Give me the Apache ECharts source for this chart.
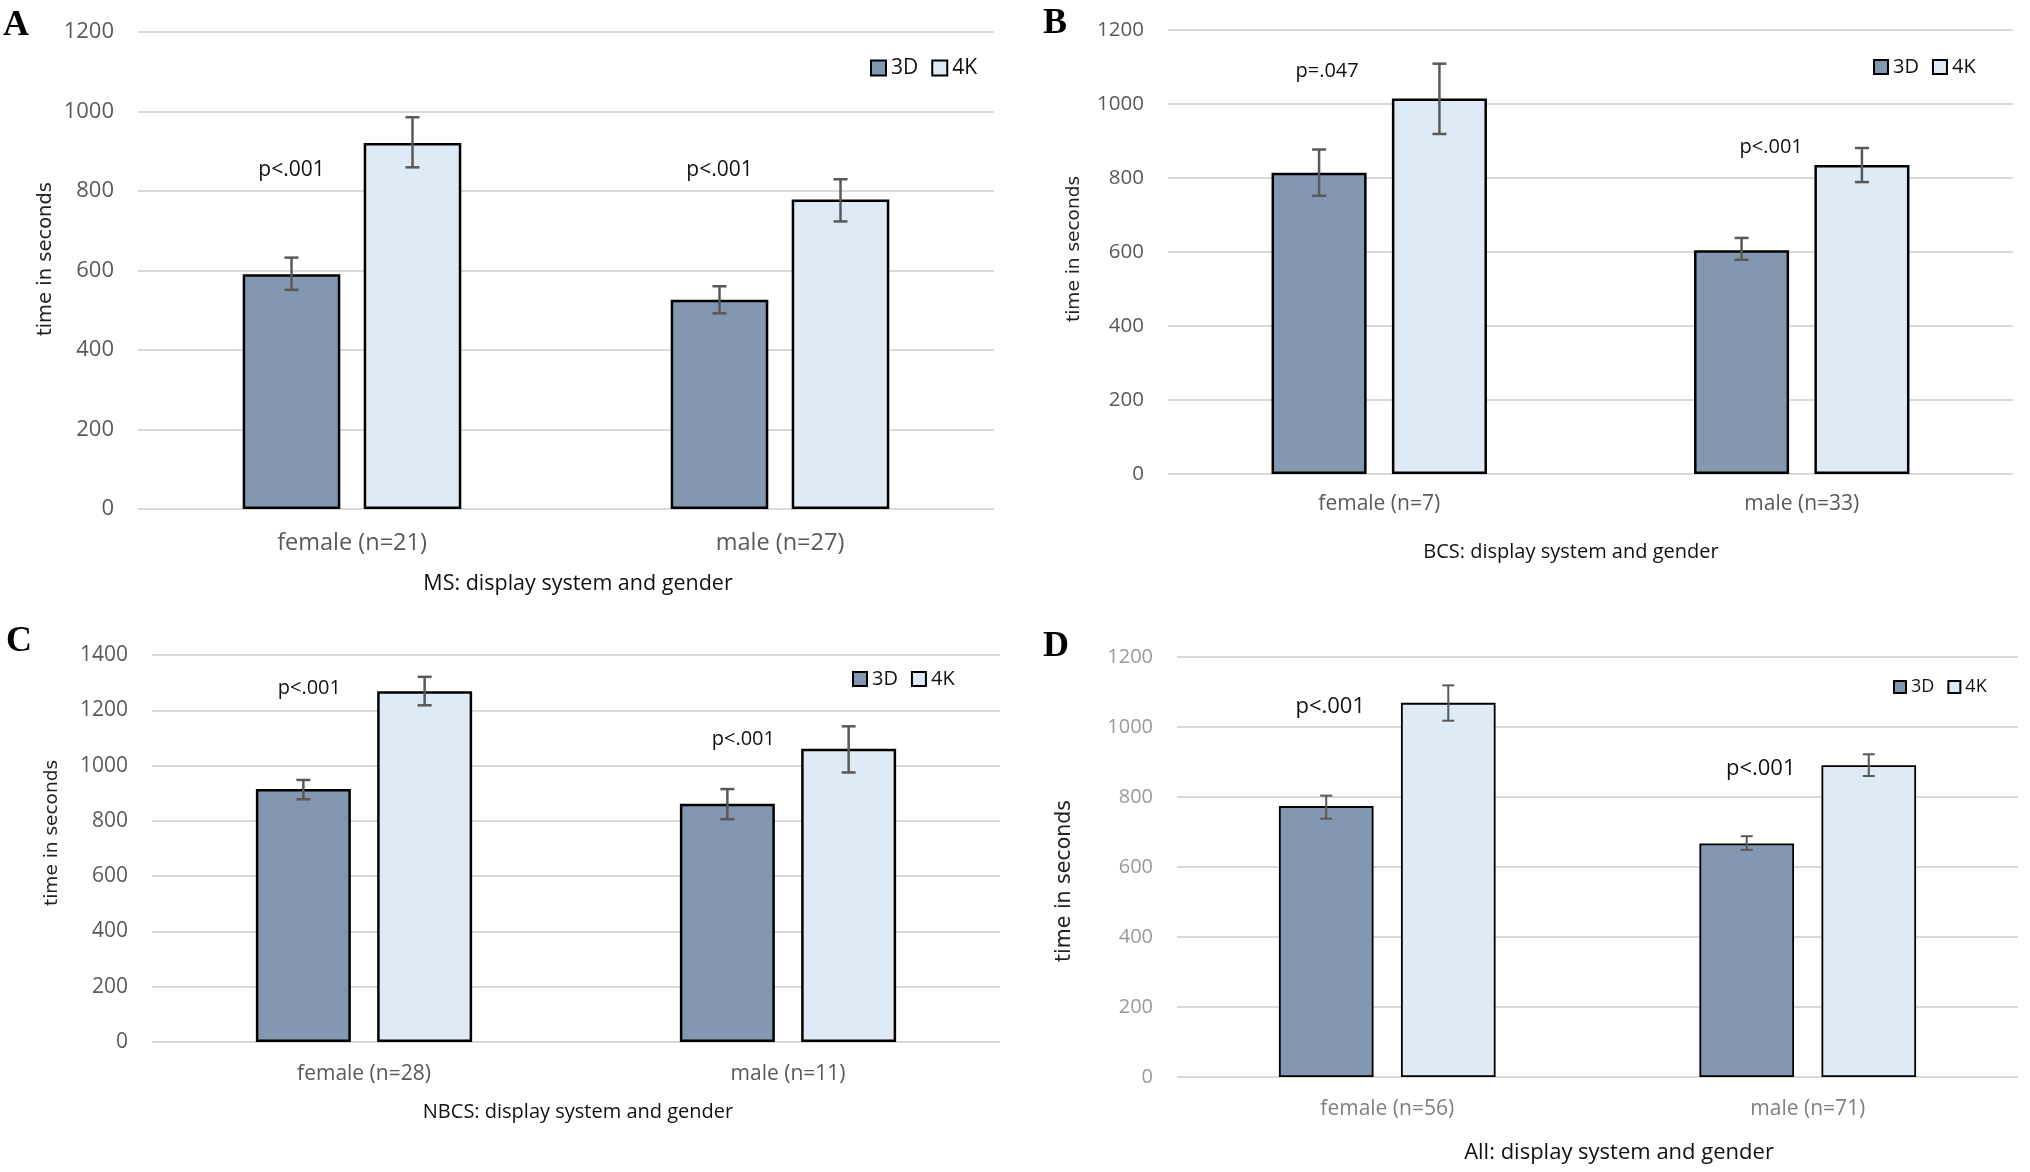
<!DOCTYPE html>
<html>
<head>
<meta charset="utf-8">
<script src="https://cdn.jsdelivr.net/npm/echarts@6/dist/echarts.min.js"></script>
<style>
html,body{margin:0;padding:0;background:#fff;}
#chart{width:2030px;height:1172px;}
</style>
</head>
<body>
<div id="chart"></div>
<script>
// ---------- DATA ----------
const seriesNames = ['3D', '4K'];

const catsA = ['female (n=21)', 'male (n=27)'];
const mean3dA = [590, 526];
const lo3dA = [551, 492];
const hi3dA = [632, 560];
const mean4kA = [920, 778];
const lo4kA = [859, 723];
const hi4kA = [985, 829];
const pTextA = ['p<.001', 'p<.001'];
const pAtA = [852, 852];
const yMaxA = 1200;

const catsB = ['female (n=7)', 'male (n=33)'];
const mean3dB = [814, 605];
const lo3dB = [752, 579];
const hi3dB = [877, 638];
const mean4kB = [1015, 835];
const lo4kB = [919, 789];
const hi4kB = [1109, 881];
const pTextB = ['p=.047', 'p<.001'];
const pAtB = [1089, 882];
const yMaxB = 1200;

const catsC = ['female (n=28)', 'male (n=11)'];
const mean3dC = [915, 862];
const lo3dC = [878, 806];
const hi3dC = [948, 915];
const mean4kC = [1269, 1061];
const lo4kC = [1218, 975];
const hi4kC = [1321, 1142];
const pTextC = ['p<.001', 'p<.001'];
const pAtC = [1281, 1096];
const yMaxC = 1400;

const catsD = ['female (n=56)', 'male (n=71)'];
const mean3dD = [774, 667];
const lo3dD = [738, 649];
const hi3dD = [804, 688];
const mean4kD = [1069, 891];
const lo4kD = [1018, 860];
const hi4kD = [1119, 922];
const pTextD = ['p<.001', 'p<.001'];
const pAtD = [1058, 881];
const yMaxD = 1200;

const yInterval = 200;

// ---------- STYLE / LAYOUT ----------
const W = 2030, H = 1172;
const FONT = '"Open Sans", "Liberation Sans", sans-serif';
const YFONT = '"DejaVu Sans", sans-serif';
const color3d = '#8497b0';
const color4k = '#deebf7';

const panels = [
  { letter: 'A', letterXY: [3, 8], cats: catsA, m3: mean3dA, l3: lo3dA, h3: hi3dA, m4: mean4kA, l4: lo4kA, h4: hi4kA,
    pText: pTextA, pAt: pAtA, yMax: yMaxA,
    grid: { left: 138, right: W - 994, top: 31.7, bottom: H - 509 },
    barW: 0.228, gap: 0.24, tick: 22, tickColor: '#595959', cat: 23.5, catColor: '#595959', catMargin: 22,
    pSize: 21, pDx: [0, 0], border: 2.5, errW: 2.5, cap: 7,
    xName: 'MS: display system and gender', xNameXY: [578, 584], xNameSize: 21.5,
    yNameXY: [46, 259], yNameSize: 19.5,
    legendXY: [870, 68], legendSq: 15, legendFont: 21 },
  { letter: 'B', letterXY: [1043, 6], cats: catsB, m3: mean3dB, l3: lo3dB, h3: hi3dB, m4: mean4kB, l4: lo4kB, h4: hi4kB,
    pText: pTextB, pAt: pAtB, yMax: yMaxB,
    grid: { left: 1168, right: W - 2013, top: 30, bottom: H - 474 },
    barW: 0.225, gap: 0.266, tick: 20.5, tickColor: '#595959', cat: 21, catColor: '#595959', catMargin: 20,
    pSize: 20, pDx: [8, 0.07], border: 2.5, errW: 2.5, cap: 7,
    xName: 'BCS: display system and gender', xNameXY: [1571, 552], xNameSize: 20,
    yNameXY: [1074, 249], yNameSize: 18.5,
    legendXY: [1873, 67], legendSq: 14, legendFont: 20 },
  { letter: 'C', letterXY: [6, 624], cats: catsC, m3: mean3dC, l3: lo3dC, h3: hi3dC, m4: mean4kC, l4: lo4kC, h4: hi4kC,
    pText: pTextC, pAt: pAtC, yMax: yMaxC,
    grid: { left: 152, right: W - 1000, top: 655, bottom: H - 1042 },
    barW: 0.224, gap: 0.277, tick: 21, tickColor: '#595959', cat: 21, catColor: '#595959', catMargin: 22,
    pSize: 20, pDx: [6, 16], border: 2.5, errW: 2.5, cap: 7,
    xName: 'NBCS: display system and gender', xNameXY: [578, 1112], xNameSize: 20,
    yNameXY: [52, 833], yNameSize: 18.5,
    legendXY: [852, 679], legendSq: 14, legendFont: 20 },
  { letter: 'D', letterXY: [1043, 629], cats: catsD, m3: mean3dD, l3: lo3dD, h3: hi3dD, m4: mean4kD, l4: lo4kD, h4: hi4kD,
    pText: pTextD, pAt: pAtD, yMax: yMaxD,
    grid: { left: 1177, right: W - 2018, top: 657, bottom: H - 1077 },
    barW: 0.225, gap: 0.29, tick: 20, tickColor: '#9a9a9a', cat: 21, catColor: '#7f7f7f', catMargin: 22,
    pSize: 22, pDx: [4, 14], border: 1.8, errW: 2, cap: 6,
    xName: 'All: display system and gender', xNameXY: [1619, 1153], xNameSize: 22,
    yNameXY: [1065, 881], yNameSize: 20.5,
    legendXY: [1893, 687], legendSq: 12, legendFont: 18 }
];

// ---------- BUILD ----------
const grids = [], xAxes = [], yAxes = [], series = [], legends = [], graphics = [];

function errRender(off, p) {
  return function (params, api) {
    const j = api.value(0);
    const band = api.size([1, 0])[0];
    const a = api.coord([j, api.value(1)]);
    const b = api.coord([j, api.value(2)]);
    const x = a[0] + off * band;
    const st = { stroke: '#595959', lineWidth: p.errW };
    return {
      type: 'group',
      children: [
        { type: 'line', shape: { x1: x, y1: a[1], x2: x, y2: b[1] }, style: st },
        { type: 'line', shape: { x1: x - p.cap, y1: a[1], x2: x + p.cap, y2: a[1] }, style: st },
        { type: 'line', shape: { x1: x - p.cap, y1: b[1], x2: x + p.cap, y2: b[1] }, style: st }
      ]
    };
  };
}

function pRender(p) {
  const off = -(p.barW * (1 + p.gap)) / 2;
  return function (params, api) {
    const j = api.value(0);
    const band = api.size([1, 0])[0];
    const c = api.coord([j, api.value(1)]);
    const dx = p.pDx[j];
    const shift = (dx > -1 && dx < 1 && dx !== 0) ? dx * band : dx;
    return {
      type: 'text',
      x: c[0] + off * band + shift,
      y: c[1],
      style: {
        text: p.pText[params.dataIndex],
        fontSize: p.pSize,
        fontFamily: FONT,
        fill: '#111',
        align: 'center',
        verticalAlign: 'middle'
      },
      z2: 20
    };
  };
}

panels.forEach((p, i) => {
  grids.push(Object.assign({ containLabel: false }, p.grid));
  xAxes.push({
    type: 'category', gridIndex: i, data: p.cats,
    axisLine: { show: false }, axisTick: { show: false },
    axisLabel: { fontSize: p.cat, color: p.catColor, margin: p.catMargin, fontFamily: FONT }
  });
  yAxes.push({
    type: 'value', gridIndex: i, min: 0, max: p.yMax, interval: yInterval,
    axisLine: { show: false }, axisTick: { show: false },
    axisLabel: { fontSize: p.tick, color: p.tickColor, margin: 24, fontFamily: FONT,
      formatter: function (v) { return String(v); } },
    splitLine: { show: true, lineStyle: { color: '#d9d9d9', width: 2 } }
  });
  const bw = (p.barW * 100).toFixed(1) + '%';
  const bg = (p.gap * 100).toFixed(1) + '%';
  series.push({
    type: 'bar', name: seriesNames[0], xAxisIndex: i, yAxisIndex: i, data: p.m3,
    barWidth: bw, barGap: bg,
    itemStyle: { color: color3d, borderColor: '#000', borderWidth: p.border },
    silent: true
  });
  series.push({
    type: 'bar', name: seriesNames[1], xAxisIndex: i, yAxisIndex: i, data: p.m4,
    barWidth: bw, barGap: bg,
    itemStyle: { color: color4k, borderColor: '#000', borderWidth: p.border },
    silent: true
  });
  const off = (p.barW * (1 + p.gap)) / 2;
  series.push({
    type: 'custom', xAxisIndex: i, yAxisIndex: i, silent: true, z: 10,
    data: p.cats.map((c, j) => [j, p.l3[j], p.h3[j]]),
    renderItem: errRender(-off, p)
  });
  series.push({
    type: 'custom', xAxisIndex: i, yAxisIndex: i, silent: true, z: 10,
    data: p.cats.map((c, j) => [j, p.l4[j], p.h4[j]]),
    renderItem: errRender(off, p)
  });
  series.push({
    type: 'custom', xAxisIndex: i, yAxisIndex: i, silent: true, z: 11,
    data: p.cats.map((c, j) => [j, p.pAt[j]]),
    renderItem: pRender(p)
  });
  const lh = Math.max(p.legendSq, p.legendFont);
  legends.push({
    left: p.legendXY[0], top: p.legendXY[1] - lh / 2,
    orient: 'horizontal', padding: 0, itemGap: 13, selectedMode: false,
    itemWidth: p.legendSq, itemHeight: p.legendSq, icon: 'rect',
    textStyle: { fontSize: p.legendFont, color: '#111', fontFamily: FONT, lineHeight: lh },
    data: [
      { name: seriesNames[0], itemStyle: { color: color3d, borderColor: '#000', borderWidth: 2 } },
      { name: seriesNames[1], itemStyle: { color: color4k, borderColor: '#000', borderWidth: 2 } }
    ]
  });
  graphics.push({
    type: 'text', x: p.letterXY[0], y: p.letterXY[1],
    style: { text: p.letter, fontSize: 36, fontWeight: 'bold', fontFamily: '"Liberation Serif", "DejaVu Serif", serif', fill: '#000', align: 'left', verticalAlign: 'top' }
  });
  graphics.push({
    type: 'text', x: p.xNameXY[0], y: p.xNameXY[1],
    style: { text: p.xName, fontSize: p.xNameSize, fontFamily: FONT, fill: '#111', align: 'center', verticalAlign: 'middle' }
  });
  graphics.push({
    type: 'text', x: p.yNameXY[0], y: p.yNameXY[1], rotation: Math.PI / 2,
    style: { text: 'time in seconds', fontSize: p.yNameSize, fontFamily: YFONT, fill: '#222', align: 'center', verticalAlign: 'middle' }
  });
});

const chart = echarts.init(document.getElementById('chart'), null, { renderer: 'canvas' });
chart.setOption({
  animation: false,
  backgroundColor: '#fff',
  grid: grids,
  xAxis: xAxes,
  yAxis: yAxes,
  legend: legends,
  series: series,
  graphic: graphics
});
</script>
</body>
</html>
